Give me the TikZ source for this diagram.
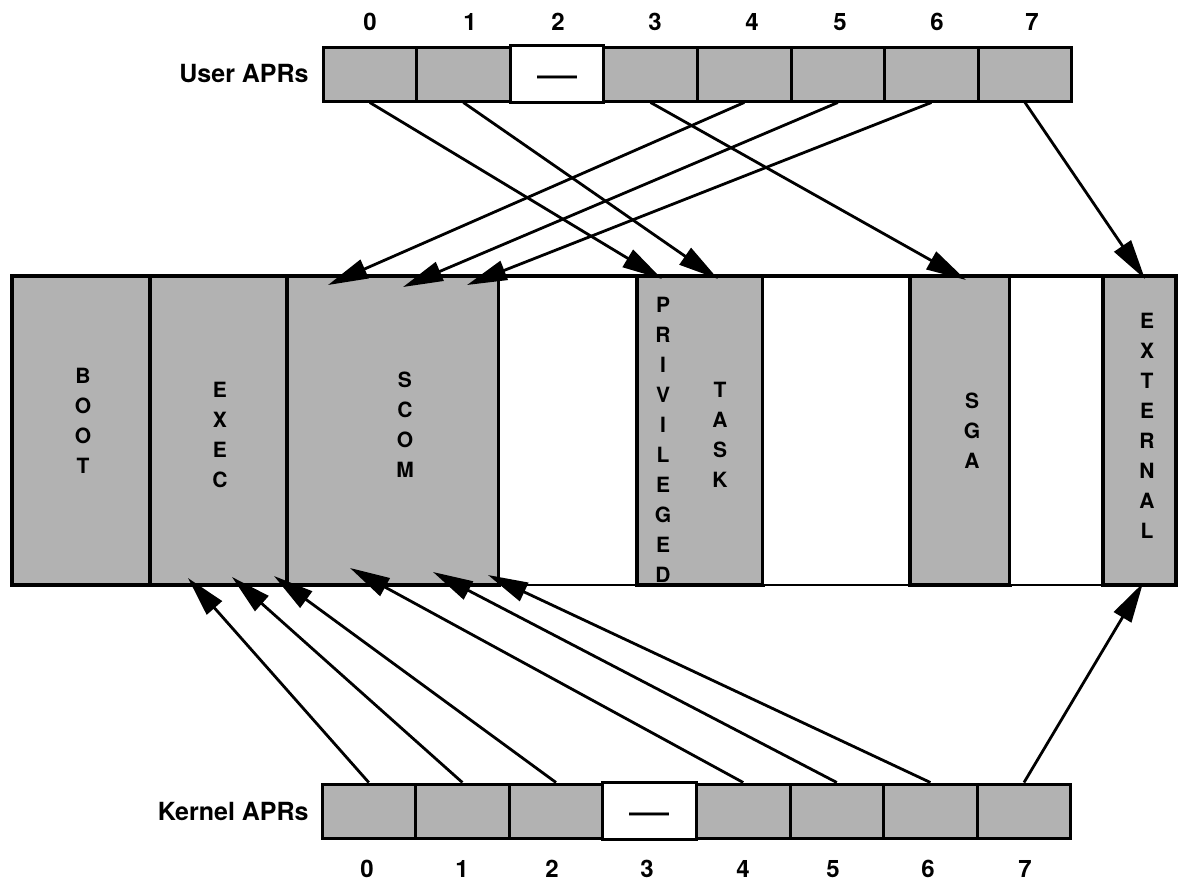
\documentclass[tikz,border=0pt]{standalone}
\usepackage{fontspec}
\setmainfont{TeX Gyre Heros}
\usepackage{tikz}
\usetikzlibrary{arrows.meta}

\begin{document}
\begin{tikzpicture}[x=0.5pt,y=-0.5pt,
	apr/.style={draw,line width=1.5pt,fill=black!30,minimum width=46.8pt,minimum height=27pt,inner sep=0pt},
	nil/.style={apr,fill=white,minimum height=28.5pt,font=\fontsize{20}{20}\selectfont},
	num/.style={font=\fontsize{12}{12}\selectfont\bfseries},
	tag/.style={anchor=east,inner sep=0pt,font=\fontsize{12.5}{14}\selectfont\bfseries},
	seg/.style={draw,fill=black!30,line width=1.8pt},
	gap/.style={draw,fill=white,line width=1pt},
	col/.style={align=center,inner sep=0pt,font=\fontsize{10.5}{15}\selectfont\bfseries},
	ptr/.style={line width=1.4pt,-{Triangle[length=20pt,width=10pt]}}]
	\useasboundingbox (0,0) rectangle (1180,884);
	\draw[seg] (12,276) rectangle (150,585);
	\draw[seg] (150,276) rectangle (287,585);
	\draw[seg] (287,276) rectangle (499,585);
	\draw[gap] (499,276) rectangle (637,585);
	\draw[seg] (637,276) rectangle (763,585);
	\draw[gap] (763,276) rectangle (910,585);
	\draw[seg] (910,276) rectangle (1010,585);
	\draw[gap] (1010,276) rectangle (1103,585);
	\draw[seg] (1103,276) rectangle (1176,585);
	\draw[line width=2.2pt] (12,585) -- (12,276) -- (1176,276) -- (1176,585);
	\node[col] (boot) at (83,421) {B\\O\\O\\T};
	\node[col] (exec) at (220,435) {E\\X\\E\\C};
	\node[col] (scom) at (405,425) {S\\C\\O\\M};
	\node[col] (priv) at (663,440) {P\\R\\I\\V\\I\\L\\E\\G\\E\\D};
	\node[col] (task) at (720,435) {T\\A\\S\\K};
	\node[col] (sga) at (972,431) {S\\G\\A};
	\node[col] (ext) at (1147,426) {E\\X\\T\\E\\R\\N\\A\\L};
	\node[tag] (user) at (309,74) {User APRs};
	\node[apr] (u0) at (369.8,74) {};
	\node[apr] (u1) at (463.4,74) {};
	\node[nil] (u2) at (557,74) {\smash{\raisebox{-0.35em}{—}}};
	\node[apr] (u3) at (650.6,74) {};
	\node[apr] (u4) at (744.2,74) {};
	\node[apr] (u5) at (837.8,74) {};
	\node[apr] (u6) at (931.4,74) {};
	\node[apr] (u7) at (1025,74) {};
	\node[num] (nu0) at (370,22) {0};
	\node[num] (nu1) at (470,22) {1};
	\node[num] (nu2) at (558,22) {2};
	\node[num] (nu3) at (655,22) {3};
	\node[num] (nu4) at (752,22) {4};
	\node[num] (nu5) at (840,22) {5};
	\node[num] (nu6) at (937,22) {6};
	\node[num] (nu7) at (1032,22) {7};
	\node[tag] (kernel) at (309,811) {Kernel APRs};
	\node[apr] (k0) at (368.8,811) {};
	\node[apr] (k1) at (462.4,811) {};
	\node[apr] (k2) at (556,811) {};
	\node[nil] (k3) at (649.6,811) {\smash{\raisebox{-0.35em}{—}}};
	\node[apr] (k4) at (743.2,811) {};
	\node[apr] (k5) at (836.8,811) {};
	\node[apr] (k6) at (930.4,811) {};
	\node[apr] (k7) at (1024,811) {};
	\node[num] (nk0) at (367,869) {0};
	\node[num] (nk1) at (462,869) {1};
	\node[num] (nk2) at (552,869) {2};
	\node[num] (nk3) at (647,869) {3};
	\node[num] (nk4) at (743,869) {4};
	\node[num] (nk5) at (833,869) {5};
	\node[num] (nk6) at (928,869) {6};
	\node[num] (nk7) at (1025,869) {7};
	\coordinate (a0) at (662,279);
	\coordinate (a1) at (718,279);
	\coordinate (a3) at (966,280);
	\coordinate (a4) at (328,285);
	\coordinate (a5) at (403,287);
	\coordinate (a6) at (467,285);
	\coordinate (a7) at (1145,279);
	\coordinate (b0) at (188,578);
	\coordinate (b1) at (232,577);
	\coordinate (b2) at (274,576);
	\coordinate (b4) at (350,568);
	\coordinate (b5) at (433,572);
	\coordinate (b6) at (488,575);
	\coordinate (b7) at (1143,583);
	\draw[ptr] (u0.south) -- (a0);
	\draw[ptr] (u1.south) -- (a1);
	\draw[ptr] (u3.south) -- (a3);
	\draw[ptr] (u4.south) -- (a4);
	\draw[ptr] (u5.south) -- (a5);
	\draw[ptr] (u6.south) -- (a6);
	\draw[ptr] (u7.south) -- (a7);
	\draw[ptr] (k0.north) -- (b0);
	\draw[ptr] (k1.north) -- (b1);
	\draw[ptr] (k2.north) -- (b2);
	\draw[ptr] (k4.north) -- (b4);
	\draw[ptr] (k5.north) -- (b5);
	\draw[ptr] (k6.north) -- (b6);
	\draw[ptr] (k7.north) -- (b7);
\end{tikzpicture}
\end{document}
